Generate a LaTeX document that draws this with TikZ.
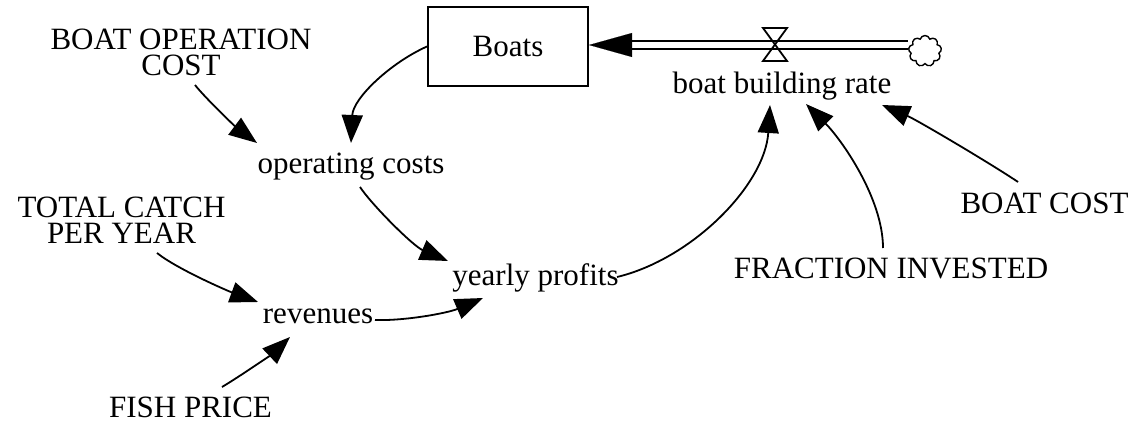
\documentclass[tikz,border=0pt]{standalone}
\usepackage{fontspec}
\setmainfont{Liberation Serif}
\usetikzlibrary{arrows.meta,shapes.symbols}
\begin{document}
\begin{tikzpicture}[x=1pt,y=-1pt,
  lbl/.style={inner sep=0pt, font=\fontsize{31}{26}\selectfont},
  lbltwo/.style={inner sep=0pt, font=\fontsize{31}{26}\selectfont, align=center},
  link/.style={line width=1.8pt, -{Triangle[length=28pt,width=21pt]}},
  pipe/.style={double, double distance=6pt, line width=2pt},
  flowtip/.style={line width=0.1pt, -{Triangle[length=43pt,width=24pt]}},
  stock/.style={draw, line width=2pt, minimum width=160pt, minimum height=79pt, inner sep=0pt, font=\fontsize{31}{26}\selectfont},
  valvestyle/.style={line width=1.8pt, line join=miter},
  source/.style={cloud, draw, line width=1.4pt, cloud puffs=9, cloud puff arc=150, aspect=1.06,
      minimum width=33pt, minimum height=31pt, inner sep=0pt}
]
\useasboundingbox (0,0) rectangle (1138,423);

% stock, source, valve
\node[stock] (boats) at (508,46.5) {Boats};
\node[source] (src) at (925,51) {};
\coordinate (pipeR) at (908,45);
\coordinate (pipeL) at (631,45);
\coordinate (valve) at (775,45);

\draw[pipe] (pipeR) -- (pipeL);
\draw[flowtip] (pipeL) -- (boats.east |- pipeL);
\draw[valvestyle] ([shift={(-12,-17)}]valve) -- ([shift={(12,-17)}]valve)
   -- ([shift={(-12,16)}]valve) -- ([shift={(12,16)}]valve) -- cycle;

% labels
\node[lbl, anchor=base] (bbr) at (782,93) {boat building rate};
\node[lbltwo] (boc) at (181,52) {BOAT OPERATION\\COST};
\node[lbl, anchor=base] (opc) at (351,173) {operating costs};
\node[lbltwo] (tc) at (121.5,220) {TOTAL CATCH\\PER YEAR};
\node[lbl, anchor=base] (yp) at (535.5,285) {yearly profits};
\node[lbl, anchor=base] (rev) at (318,323) {revenues};
\node[lbl, anchor=base] (fp) at (190.5,417) {FISH PRICE};
\node[lbl, anchor=base] (fi) at (891,278) {FRACTION INVESTED};
\node[lbl, anchor=base] (bc) at (1044.5,213) {BOAT COST};

% links
\draw[link] (boats.west) .. controls +(-36,16) and +(2,-45) .. ([shift={(0,-30)}]opc.base);
\draw[link] ([shift={(14,33)}]boc.center) .. controls +(12,15) and +(-20,-15) .. ([shift={(-94,-30)}]opc.base);
\draw[link] ([shift={(9,14)}]opc.base) .. controls +(12,18) and +(-35,-15) .. ([shift={(-87.5,-24)}]yp.base);
\draw[link] ([shift={(81.5,-8)}]yp.base) .. controls +(75,-18) and +(-5,80) .. ([shift={(-12,12)}]bbr.base);
\draw[link] ([shift={(35.5,33)}]tc.center) .. controls +(20,16) and +(-30,-11) .. ([shift={(-60,-21)}]rev.base);
\draw[link] ([shift={(31.5,-30)}]fp.base) .. controls +(20,-12) and +(-18,17) .. ([shift={(-28,14)}]rev.base);
\draw[link] ([shift={(57,-3)}]rev.base) .. controls +(30,1) and +(-35,15) .. ([shift={(-52.5,13)}]yp.base);
\draw[link] ([shift={(-8,-30)}]fi.base) .. controls +(0,-50) and +(35,35) .. ([shift={(24,11)}]bbr.base);
\draw[link] ([shift={(-26.5,-31)}]bc.base) .. controls +(-25,-17) and +(35,15) .. ([shift={(100,12)}]bbr.base);
\end{tikzpicture}
\end{document}
